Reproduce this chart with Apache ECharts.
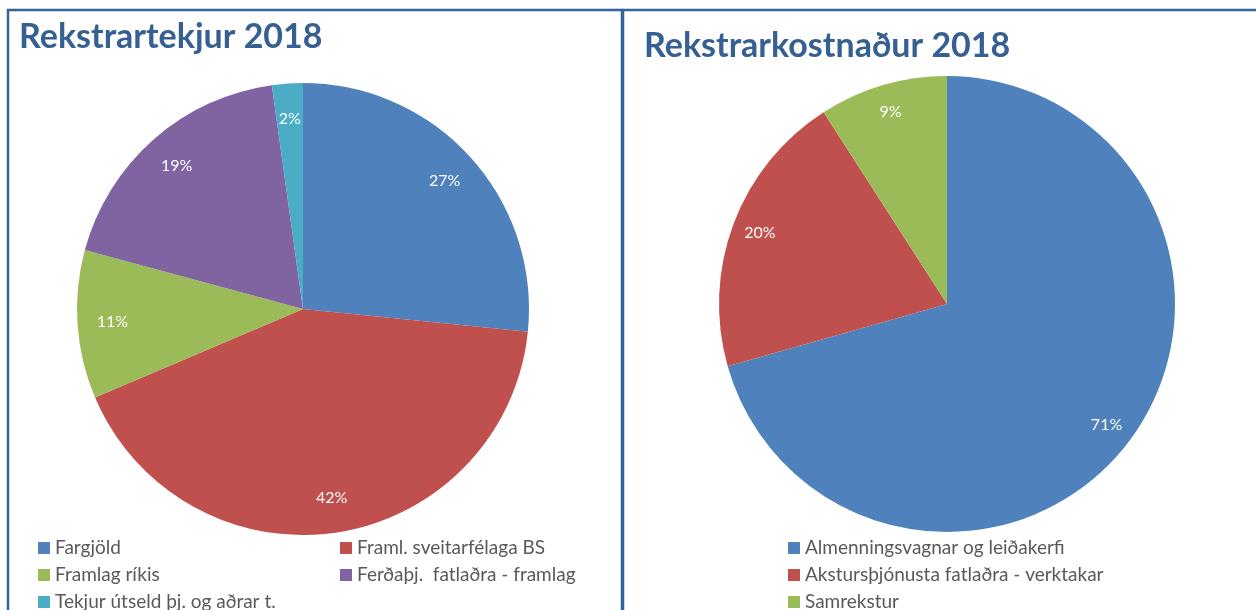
<!DOCTYPE html>
<html lang="is">
<head>
    <meta charset="UTF-8">
    <title>Rekstur 2018</title>
    <script src="https://cdn.jsdelivr.net/npm/echarts@6/dist/echarts.min.js"></script>
    <style>
        html, body { margin: 0; padding: 0; background: #fff; }
        #main { width: 1256px; height: 610px; }
    </style>
</head>
<body>
<div id="main"></div>
<script type="text/javascript">
    // tekjur (vinstri kaka)
    var tekjurNames = ['Fargjöld', 'Framl. sveitarfélaga BS', 'Framlag ríkis', 'Ferðaþj.  fatlaðra - framlag', 'Tekjur útseld þj. og aðrar t.'];
    var tekjurValues = [26.6, 42.0, 10.6, 18.6, 2.2];
    var tekjurColors = ['#4f81bd', '#c0504d', '#9bbb59', '#8064a2', '#4bacc6'];

    // kostnaður (hægri kaka)
    var kostnNames = ['Almenningsvagnar og leiðakerfi', 'Akstursþjónusta fatlaðra - verktakar', 'Samrekstur'];
    var kostnValues = [70.6, 20.3, 9.1];
    var kostnColors = ['#4f81bd', '#c0504d', '#9bbb59'];

    var myChart = echarts.init(document.getElementById('main'));

    function makeData(names, values, colors, hidden) {
        var arr = [];
        for (var i = 0; i < names.length; i++) {
            arr.push({
                name: names[i],
                value: values[i],
                itemStyle: hidden ? { color: 'rgba(0,0,0,0)' } : { color: colors[i] }
            });
        }
        return arr;
    }

    var borderColor = '#34629a';
    var fontFam = 'Lato, "Open Sans", sans-serif';
    var titleStyle = { color: '#376092', fontSize: 34, fontWeight: 'bold', fontFamily: fontFam };
    var legendText = { color: '#595959', fontSize: 19, fontFamily: fontFam, lineHeight: 22 };

    // eitt legend á hvern lið svo dálkarnir raðist eins og í Excel
    var legends = [];
    function addLegend(name, left, row) {
        legends.push({
            left: left, top: 537 + row * 27, padding: 0,
            itemWidth: 12, itemHeight: 12, icon: 'rect',
            data: [name], textStyle: legendText, selectedMode: false
        });
    }
    for (var i = 0; i < tekjurNames.length; i++) {
        addLegend(tekjurNames[i], i % 2 === 0 ? 38 : 340, Math.floor(i / 2));
    }
    for (var j = 0; j < kostnNames.length; j++) {
        addLegend(kostnNames[j], 788, j);
    }

    function pctLabel(p) {
        return Math.round(p.percent) + '%';
    }

    var labelStyle = { show: true, position: 'inside', formatter: pctLabel, color: '#fff', fontSize: 16, fontFamily: fontFam };

    var option = {
        animation: false,
        title: [
            { text: 'Rekstrartekjur 2018', left: 14, top: 15, textStyle: titleStyle },
            { text: 'Rekstrarkostnaður 2018', left: 639, top: 24, textStyle: titleStyle }
        ],
        graphic: [
            {
                type: 'rect', silent: true,
                shape: { x: 8, y: 10, width: 614, height: 640 },
                style: { fill: 'none', stroke: borderColor, lineWidth: 2.5 }
            },
            {
                type: 'rect', silent: true,
                shape: { x: 623, y: 10, width: 700, height: 640 },
                style: { fill: 'none', stroke: borderColor, lineWidth: 2.5 }
            }
        ],
        legend: legends,
        series: [
            {
                name: 'Rekstrartekjur', type: 'pie',
                center: [303, 309], radius: [0, 226],
                startAngle: 90, clockwise: true,
                label: { show: false }, labelLine: { show: false },
                emphasis: { disabled: true },
                data: makeData(tekjurNames, tekjurValues, tekjurColors, false)
            },
            {
                name: 'Rekstrarkostnaður', type: 'pie',
                center: [947, 304], radius: [0, 228],
                startAngle: 90, clockwise: true,
                label: { show: false }, labelLine: { show: false },
                emphasis: { disabled: true },
                data: makeData(kostnNames, kostnValues, kostnColors, false)
            },
            // gegnsær hringur bara fyrir prósentumerkin
            {
                type: 'pie', silent: true,
                center: [303, 309], radius: [150, 226],
                startAngle: 90, clockwise: true,
                label: labelStyle, labelLine: { show: false },
                emphasis: { disabled: true },
                data: makeData(tekjurNames, tekjurValues, tekjurColors, true)
            },
            {
                type: 'pie', silent: true,
                center: [947, 304], radius: [166, 228],
                startAngle: 90, clockwise: true,
                label: labelStyle, labelLine: { show: false },
                emphasis: { disabled: true },
                data: makeData(kostnNames, kostnValues, kostnColors, true)
            }
        ]
    };

    myChart.setOption(option);
</script>
</body>
</html>
